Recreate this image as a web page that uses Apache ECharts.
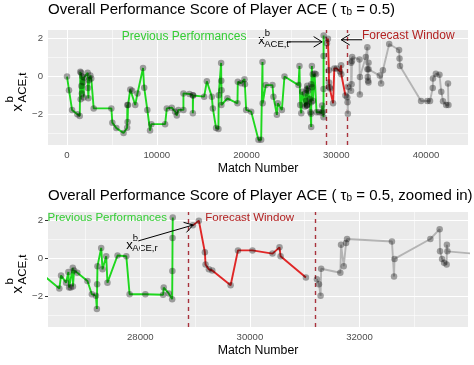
<!DOCTYPE html>
<html><head><meta charset="utf-8">
<script src="https://cdn.jsdelivr.net/npm/echarts@6/dist/echarts.min.js"></script>
<style>html,body{margin:0;padding:0;background:#fff}#c{width:474px;height:365px}</style>
</head><body><div id="c"></div>
<script>
// ---- data (Match Number, score) ----
const prevX = [0,220,560,1150,1420,1480,1520,1560,1600,1650,1700,1800,1850,1900,2300,2330,2380,2450,2600,2700,2970,4940,5050,5500,6300,6700,6720,6750,6800,7050,7250,7600,7850,8470,8600,8950,9250,9400,10930,11120,11670,12040,12230,12410,12970,12970,13640,14020,14020,14050,15280,15580,16130,16250,16610,16870,16900,17170,17190,17220,17200,17870,18990,19030,19400,19770,19820,19960,20520,21330,21630,21780,21800,22150,22890,23000,23380,23490,23940,24230,25790,25900,25980,26100,26200,26522,26553,26645,26687,26700,26731,26767,26770,26791,26850,27035,27115,27189,27207,27212,27218,27286,27310,27377,27400,27584,27744,27804,28092,28416,28427,28518,28581,28585,28588,28592];
const prevY = [0.0,-0.72,-1.76,-1.99,-2.08,0.25,-1.2,0.2,-0.5,-0.9,0.0,-0.3,-1.1,-0.05,0.2,-0.6,-1.15,-0.2,0.05,-0.1,-1.68,-1.68,-2.43,-2.72,-2.98,-2.7,-1.5,-2.4,-1.5,-0.68,-0.75,-1.5,-0.89,0.45,-0.59,-1.76,-2.85,-2.51,-2.51,-1.68,-1.64,-1.85,-2.06,-1.76,-1.76,-0.89,-0.92,-0.98,-1.94,-1.0,-1.06,-0.25,-1.06,-1.68,-2.72,-2.76,-0.98,0.72,-0.22,-0.72,-1.5,-1.15,-1.41,-0.28,-0.35,-0.14,-0.4,-1.76,-1.85,-3.33,-3.33,0.77,-1.41,-0.45,-0.45,-1.06,-2.02,-1.41,-1.76,0.0,-0.45,0.56,-1.5,-1.94,-0.8,-1.58,-0.89,-1.27,-0.71,-1.53,-1.53,-0.49,-1.47,-0.63,-0.75,-1.18,-1.88,-1.96,-2.66,-1.35,-0.4,0.56,-0.57,0.12,-1.27,0.16,0.12,-1.88,-1.88,-1.91,-1.53,-1.84,-2.14,-0.66,1.08,2.17];
const fcstX = [28960,29068,29178,29190,29251,29313,29648,29782,30046,30412,30540,30560,31022];
const fcstY = [1.75,2.0,0.33,-0.31,-0.57,-0.63,-1.41,0.43,0.43,0.26,0.59,0.12,-1.0];
const postX = [31223,31260,31290,31300,31650,31663,31712,31755,31773,32592,32630,32639,33293,33463,33470,33507,33544,33590,33595,33604,34850,35000,35200,35900,37000,37050,37100,39450,40150,40450,40750,40780,41100,41500,41700,41900,42250,42500,42450];
const postY = [-1.09,-1.35,-1.96,-0.54,-0.75,0.73,-0.4,0.82,1.03,0.9,-0.95,-0.02,1.03,1.55,0.38,-0.02,-0.22,-0.31,0.73,0.38,0.05,-0.37,0.33,1.72,1.4,0.95,0.56,-1.29,-1.29,-1.29,-0.6,-0.1,0.15,0.1,-0.8,-1.3,-1.5,-1.5,-0.37];
const windowBounds = [28870, 31190];

// ---- ticks ----
const xTicksTop = [0,10000,20000,30000,40000];
const xMinorTop = [5000,15000,25000,35000];
const xTicksBot = [28000,30000,32000];
const xMinorBot = [27000,29000,31000,33000];
const yTicks = [-2,0,2];
const yMinor = [-3,-1,1];

const F = '"Liberation Sans", Arial, sans-serif';
const GREEN = '#1ED81E', RED = '#E02626', GREY = '#B4B4B4', DASH = '#A8323C';
const pair = (xs, ys) => xs.map((x, i) => [x, ys[i]]);
const prev = pair(prevX, prevY), fcst = pair(fcstX, fcstY), post = pair(postX, postY);
const fmt = v => (v < 0 ? '\u2212' + Math.abs(v) : String(v));

function xAxis(gi, min, max, ticks) {
  return {type:'value', gridIndex:gi, min, max,
    axisLine:{show:false},
    axisTick:{show:true, customValues:ticks, length:3, lineStyle:{color:'#333', width:1}},
    axisLabel:{customValues:ticks, formatter:fmt, color:'#4D4D4D', fontSize:9.6, fontFamily:F, margin:5},
    splitLine:{show:false},
    name:'Match Number', nameLocation:'middle', nameGap:18,
    nameTextStyle:{fontFamily:F, fontSize:12.3, color:'#000'}};
}
function yAxis(gi) {
  return {type:'value', gridIndex:gi, min:-3.61, max:2.455,
    axisLine:{show:false},
    axisTick:{show:true, customValues:yTicks, length:3, lineStyle:{color:'#333', width:1}},
    axisLabel:{customValues:yTicks, formatter:fmt, color:'#4D4D4D', fontSize:9.6, fontFamily:F, margin:5},
    splitLine:{show:false}};
}
function gridLines(gi, xMaj, xMin) {
  const d = [];
  xMin.forEach(v => d.push({xAxis:v, lineStyle:{width:0.55}}));
  yMinor.forEach(v => d.push({yAxis:v, lineStyle:{width:0.55}}));
  xMaj.forEach(v => d.push({xAxis:v, lineStyle:{width:1.1}}));
  yTicks.forEach(v => d.push({yAxis:v, lineStyle:{width:1.1}}));
  return {type:'line', xAxisIndex:gi, yAxisIndex:gi, data:[], silent:true, z:1,
    markLine:{silent:true, z:1, animation:false, symbol:['none','none'], label:{show:false},
      lineStyle:{color:'#fff', type:'solid'}, emphasis:{disabled:true}, data:d}};
}
function dashLines(gi) {
  return {type:'line', xAxisIndex:gi, yAxisIndex:gi, data:[], silent:true, z:2,
    markLine:{silent:true, z:2, animation:false, symbol:['none','none'], label:{show:false},
      lineStyle:{color:DASH, type:[4,4], width:1.4}, emphasis:{disabled:true},
      data: windowBounds.map(v => ({xAxis:v}))}};
}
function dataSeries(gi, data, color, z) {
  return {type:'line', xAxisIndex:gi, yAxisIndex:gi, data, z, clip:true,
    symbol:'circle', symbolSize:6.5, showSymbol:true, showAllSymbol:true,
    itemStyle:{color:'rgba(0,0,0,0.34)', borderWidth:0},
    lineStyle:{color, width:1.9}, emphasis:{disabled:true}, animation:false};
}
const titleRich = {g:{fontFamily:F, fontSize:15, color:'#000'}, s:{fontFamily:F, fontSize:10, color:'#000', verticalAlign:'bottom'}};
const chart = echarts.init(document.getElementById('c'), null, {renderer:'canvas'});
chart.setOption({
  animation:false,
  backgroundColor:'#fff',
  title:[
    {left:48, top:2, padding:0, text:'Overall Performance Score of Player ACE ( {g|\u03c4}{s|b} = 0.5)',
     textStyle:{fontFamily:F, fontSize:15, fontWeight:'normal', color:'#000', rich:titleRich}},
    {left:48, top:188, padding:0, text:'Overall Performance Score of Player ACE ( {g|\u03c4}{s|b} = 0.5, zoomed in)',
     textStyle:{fontFamily:F, fontSize:15, fontWeight:'normal', color:'#000', rich:titleRich}}
  ],
  grid:[
    {left:48, top:30, width:420, height:115, show:true, backgroundColor:'#EBEBEB', borderWidth:0},
    {left:48, top:212, width:420, height:115, show:true, backgroundColor:'#EBEBEB', borderWidth:0}
  ],
  xAxis:[xAxis(0, -2120, 44680, xTicksTop), xAxis(1, 26315, 33980, xTicksBot)],
  yAxis:[yAxis(0), yAxis(1)],
  series:[
    gridLines(0, xTicksTop, xMinorTop), gridLines(1, xTicksBot, xMinorBot),
    dashLines(0), dashLines(1),
    dataSeries(0, post, GREY, 3), dataSeries(0, prev, GREEN, 4), dataSeries(0, fcst, RED, 5),
    dataSeries(1, post, GREY, 3), dataSeries(1, prev, GREEN, 4), dataSeries(1, fcst, RED, 5)
  ]
});

// ---- annotations (anchored in data coordinates) ----
const labels = [
  {gi:0, at:[13045, 2.11], text:'Previous Performances', color:'#33CC33', size:12},
  {gi:0, at:[38020, 2.16], text:'Forecast Window', color:'#B22222', size:12},
  {gi:1, at:[27396, 2.14], text:'Previous Performances', color:'#33CC33', size:11.5},
  {gi:1, at:[29996, 2.14], text:'Forecast Window', color:'#B22222', size:11.5}
];
const mathLabels = [
  {gi:0, at:[21300, 1.9], sub:"ACE,t'"},
  {gi:1, at:[27744, 0.71], sub:'ACE,r'}
];
const arrows = [
  {gi:0, from:[24530, 1.83], to:[28430, 1.83]},
  {gi:0, from:[32890, 1.94], to:[30550, 1.94]},
  {gi:1, from:[27963, 0.93], to:[28965, 1.77]}
];
const P = (gi, p) => chart.convertToPixel({gridIndex:gi}, p);
const g = [];
labels.forEach(l => {
  const p = P(l.gi, l.at);
  g.push({type:'text', x:p[0], y:p[1], z:100, silent:true,
    style:{text:l.text, fill:l.color, font:l.size + 'px ' + F, align:'center', verticalAlign:'middle', textAlign:'center', textVerticalAlign:'middle'}});
});
mathLabels.forEach(m => {
  const p = P(m.gi, m.at);
  g.push({type:'group', x:p[0], y:p[1], z:100, silent:true, children:[
    {type:'text', x:0, y:0, style:{text:'x', fill:'#000', font:'13px ' + F, align:'left', verticalAlign:'middle', textAlign:'left', textVerticalAlign:'middle'}},
    {type:'text', x:6.5, y:-7, style:{text:'b', fill:'#000', font:'9.5px ' + F, align:'left', verticalAlign:'middle', textAlign:'left', textVerticalAlign:'middle'}},
    {type:'text', x:6, y:3.5, style:{text:m.sub, fill:'#000', font:'9.5px ' + F, align:'left', verticalAlign:'middle', textAlign:'left', textVerticalAlign:'middle'}}
  ]});
});
arrows.forEach(a => {
  const p1 = P(a.gi, a.from), p2 = P(a.gi, a.to);
  const ang = Math.atan2(p2[1] - p1[1], p2[0] - p1[0]);
  const L = 10, w = 0.55;
  const h1 = [p2[0] - L * Math.cos(ang - w), p2[1] - L * Math.sin(ang - w)];
  const h2 = [p2[0] - L * Math.cos(ang + w), p2[1] - L * Math.sin(ang + w)];
  g.push({type:'polyline', z:100, silent:true, shape:{points:[p1, p2]}, style:{stroke:'#000', lineWidth:1, fill:null}});
  g.push({type:'polyline', z:100, silent:true, shape:{points:[h1, p2, h2]}, style:{stroke:'#000', lineWidth:1, fill:null}});
});
// rotated y-axis titles
[0, 1].forEach(gi => {
  const top = gi === 0 ? 30 : 212;
  g.push({type:'group', x:18, y:top + 57.5, rotation:Math.PI / 2, silent:true, children:[
    {type:'text', x:-24, y:0, style:{text:'x', fill:'#000', font:'15px ' + F, align:'left', verticalAlign:'middle', textAlign:'left', textVerticalAlign:'middle'}},
    {type:'text', x:-15, y:-8.5, style:{text:'b', fill:'#000', font:'11.5px ' + F, align:'left', verticalAlign:'middle', textAlign:'left', textVerticalAlign:'middle'}},
    {type:'text', x:-15, y:4.5, style:{text:'ACE,t', fill:'#000', font:'11.5px ' + F, align:'left', verticalAlign:'middle', textAlign:'left', textVerticalAlign:'middle'}}
  ]});
});
chart.setOption({graphic:g});
</script></body></html>
